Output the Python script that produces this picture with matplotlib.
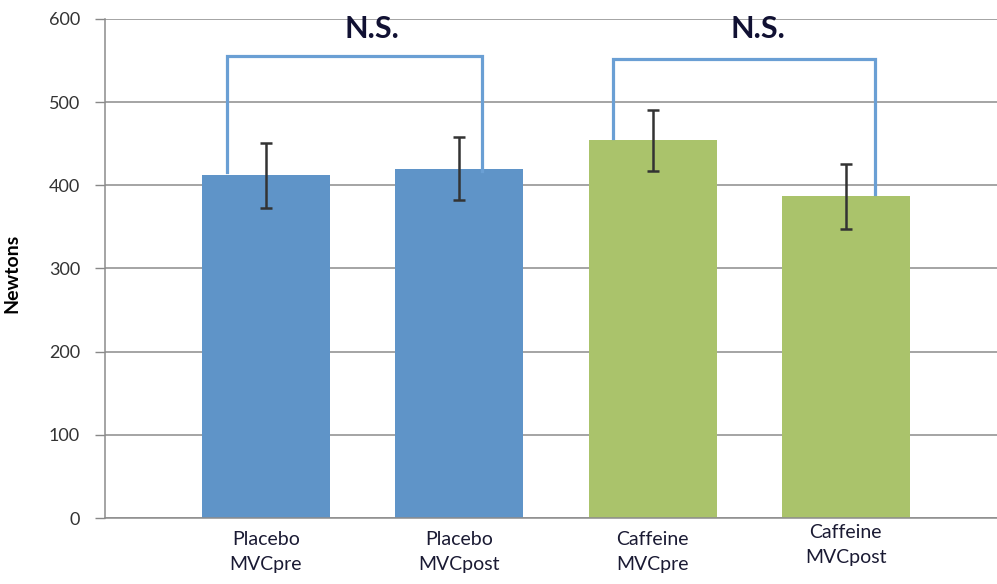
import matplotlib
matplotlib.use("Agg")
import matplotlib.pyplot as plt
import matplotlib.transforms as mtransforms
import numpy as np

plt.rcParams['font.family'] = ['Lato', 'DejaVu Sans']

# MVC force per condition (mean and error)
labels = ['Placebo\nMVCpre', 'Placebo\nMVCpost', 'Caffeine\nMVCpre', 'Caffeine\nMVCpost']
means = [412, 420, 454, 387]
errors = [39, 38, 37, 39]
colors = ['#5F94C8', '#5F94C8', '#AAC36B', '#AAC36B']

# significance brackets: (left bar, right bar, heights of the two legs, bracket height, label)
brackets = [
    (0, 1, (416, 417), 556, 'N.S.'),
    (2, 3, (457, 390), 552, 'N.S.'),
]
bracket_offsets = [(-0.20, 0.12), (-0.205, 0.15)]
label_x = [0.548, 2.545]

fig = plt.figure(figsize=(9.97, 5.84), dpi=100)
ax = fig.add_axes([0.1053, 0.113, 0.8947, 0.8545])

x = np.arange(len(labels))
ax.bar(x, means, width=0.662, color=colors, zorder=2)
ax.errorbar(x, means, yerr=errors, fmt='none', ecolor='#333333',
            elinewidth=1.8, capsize=4.5, capthick=1.8, zorder=3)

line_color = '#6A9FD4'
for (i, j, ends, top, text), (dl, dr), tx in zip(brackets, bracket_offsets, label_x):
    xl, xr = i + dl, j + dr
    ax.plot([xl, xl, xr, xr], [ends[0], top, top, ends[1]],
            color=line_color, lw=2.3, solid_joinstyle='miter', zorder=4)
    ax.text(tx, 588, text, ha='center', va='center',
            fontsize=22, fontweight='bold', color='#111133')

ax.set_ylim(0, 600)
ax.set_xlim(-0.833, 3.782)
ax.set_yticks(range(0, 601, 100))
ax.set_xticks(x)
ax.set_xticklabels(labels, fontsize=14, linespacing=1.6, color='#1a1a33')
ax.tick_params(axis='x', length=0, pad=9)
ax.tick_params(axis='y', length=7, width=1, color='#888888', labelsize=13,
               labelcolor='#333333', pad=11)
ax.yaxis.grid(True, color='#8c8c8c', lw=1.1, zorder=0)
ax.set_axisbelow(True)

# the last category label sits a little higher
shift = mtransforms.ScaledTranslation(0, 5 / 72, fig.dpi_scale_trans)
last = ax.get_xticklabels()[-1]
last.set_transform(last.get_transform() + shift)

for side in ['top', 'right']:
    ax.spines[side].set_visible(False)
for side in ['left', 'bottom']:
    ax.spines[side].set_color('#8c8c8c')
    ax.spines[side].set_linewidth(1.1)

ax.set_ylabel('Newtons', fontsize=14, fontweight='bold')
ax.yaxis.set_label_coords(-0.095, 0.491)

fig.savefig('out.png', dpi=100)
